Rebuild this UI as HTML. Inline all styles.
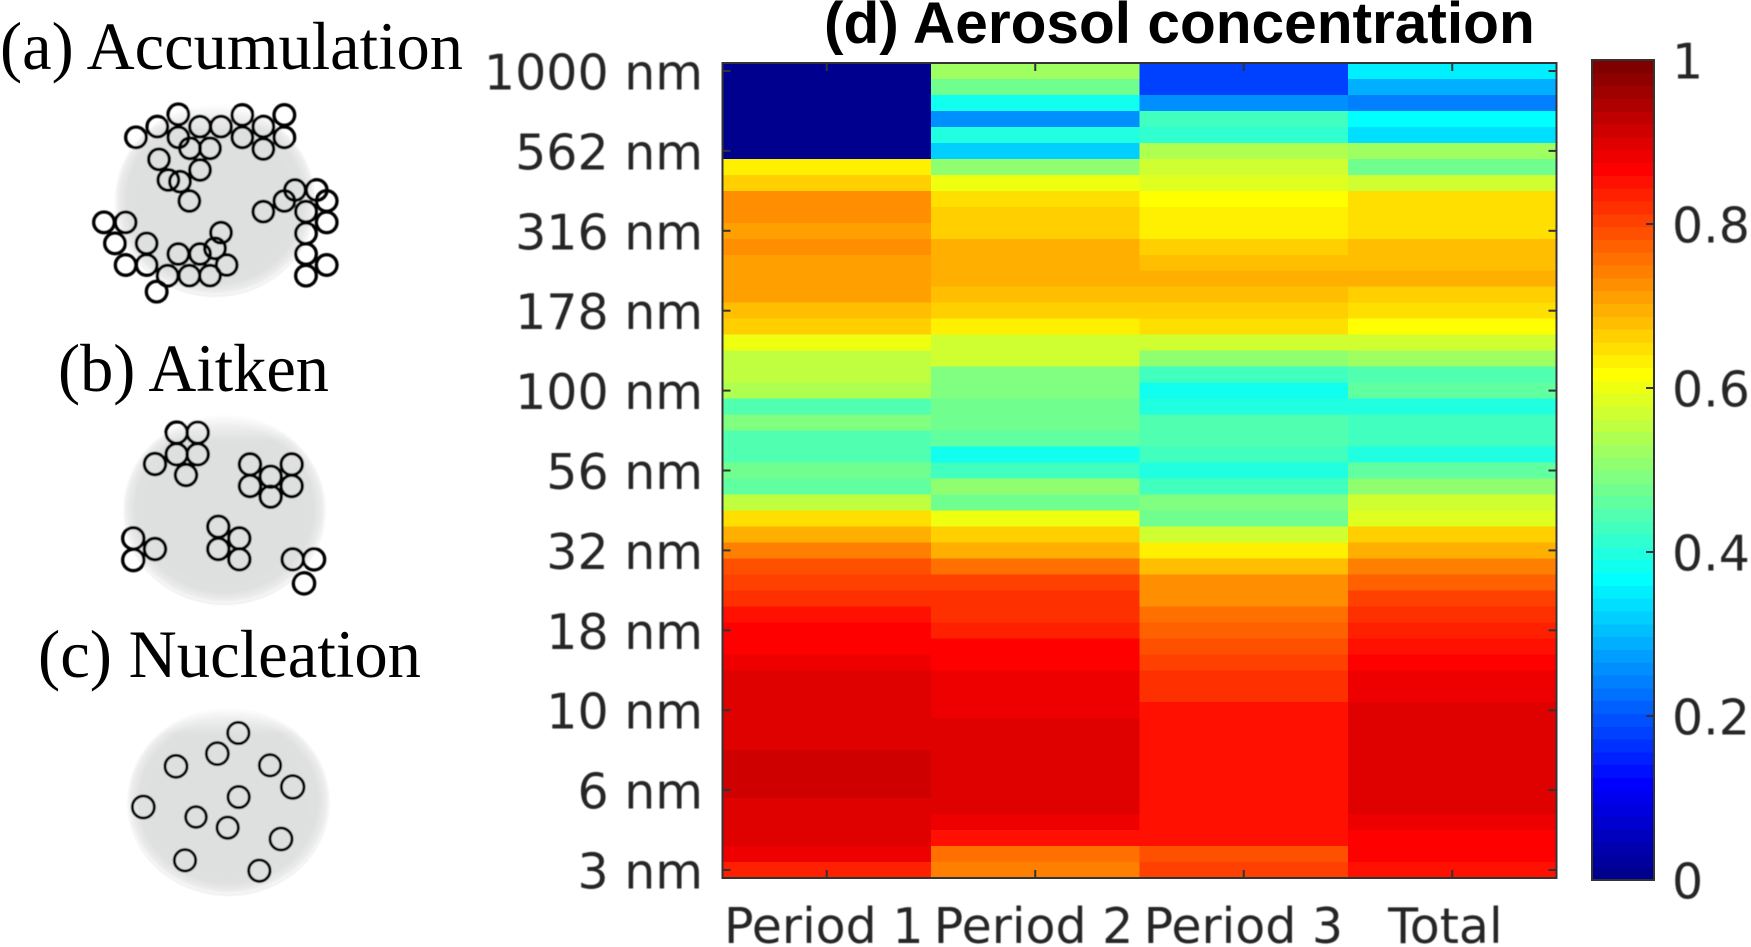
<!DOCTYPE html>
<html lang="en">
<head>
<meta charset="utf-8">
<title>Aerosol concentration heatmap</title>
<style>
html,body{margin:0;padding:0;background:#fff;width:1751px;height:947px;overflow:hidden}
svg{display:block}
.serif{font-family:"Liberation Serif",serif;fill:#000}
.tick{font-family:"DejaVu Sans",sans-serif;font-size:49px;fill:#262626}
.title{font-family:"Liberation Sans",sans-serif;font-weight:700;font-size:58.6px;fill:#000}
</style>
</head>
<body>
<svg id="figure" xmlns="http://www.w3.org/2000/svg" width="1751" height="947" viewBox="0 0 1751 947">
  <defs>
    <radialGradient id="disc-fill" cx="50%" cy="50%" r="50%">
      <stop offset="0%" stop-color="#dedfdf"/>
      <stop offset="88%" stop-color="#dfe0e0"/>
      <stop offset="96%" stop-color="#ebebeb"/>
      <stop offset="100%" stop-color="#f8f8f8"/>
    </radialGradient>
    <linearGradient id="disc-sheen" x1="0" y1="0" x2="0" y2="1">
      <stop offset="0%" stop-color="#fff" stop-opacity=".8"/>
      <stop offset="14%" stop-color="#fff" stop-opacity="0"/>
    </linearGradient>
    <filter id="soft" x="-5%" y="-5%" width="110%" height="110%"><feGaussianBlur stdDeviation="0.45"/></filter>
    <filter id="soft-text" x="-5%" y="-5%" width="110%" height="110%"><feGaussianBlur stdDeviation="0.45"/></filter>
  </defs>

  <text class="serif" x="0" y="69" font-size="68" textLength="463" lengthAdjust="spacingAndGlyphs">(a) Accumulation</text>
  <text class="serif" x="58" y="391" font-size="68" textLength="271" lengthAdjust="spacingAndGlyphs">(b) Aitken</text>
  <text class="serif" x="38" y="677" font-size="68" textLength="383" lengthAdjust="spacingAndGlyphs">(c) Nucleation</text>

  <g filter="url(#soft)">
    <ellipse cx="215" cy="202" rx="100" ry="95" fill="#d4d5d5" opacity=".35"/>
    <ellipse cx="215" cy="200" rx="100" ry="95" fill="url(#disc-fill)"/>
    <ellipse cx="215" cy="200" rx="100" ry="95" fill="url(#disc-sheen)"/>
    <g transform="scale(0.33333)" fill="none" stroke="#000" stroke-width="10">
      <circle cx="408" cy="412" r="31"/><circle cx="472" cy="380" r="31"/><circle cx="535" cy="343" r="31"/><circle cx="600" cy="380" r="31"/><circle cx="663" cy="380" r="31"/><circle cx="727" cy="345" r="31"/><circle cx="790" cy="380" r="31"/><circle cx="853" cy="345" r="31"/><circle cx="853" cy="412" r="31"/><circle cx="790" cy="447" r="31"/><circle cx="727" cy="412" r="31"/><circle cx="535" cy="412" r="31"/><circle cx="570" cy="445" r="31"/><circle cx="630" cy="445" r="31"/><circle cx="477" cy="478" r="31"/><circle cx="600" cy="510" r="31"/><circle cx="505" cy="540" r="31"/><circle cx="540" cy="545" r="31"/><circle cx="568" cy="603" r="31"/><circle cx="790" cy="635" r="31"/><circle cx="853" cy="603" r="31"/><circle cx="885" cy="570" r="31"/><circle cx="950" cy="570" r="31"/><circle cx="980" cy="603" r="31"/><circle cx="918" cy="635" r="31"/><circle cx="980" cy="667" r="31"/><circle cx="918" cy="700" r="31"/><circle cx="918" cy="762" r="31"/><circle cx="980" cy="795" r="31"/><circle cx="918" cy="827" r="31"/><circle cx="312" cy="667" r="31"/><circle cx="377" cy="667" r="31"/><circle cx="345" cy="730" r="31"/><circle cx="440" cy="730" r="31"/><circle cx="377" cy="795" r="31"/><circle cx="440" cy="795" r="31"/><circle cx="503" cy="827" r="31"/><circle cx="470" cy="875" r="31"/><circle cx="535" cy="762" r="31"/><circle cx="600" cy="762" r="31"/><circle cx="645" cy="745" r="31"/><circle cx="663" cy="698" r="31"/><circle cx="680" cy="795" r="31"/><circle cx="630" cy="827" r="31"/><circle cx="568" cy="827" r="31"/>
    </g>
  </g>

  <g filter="url(#soft)">
    <ellipse cx="224.5" cy="511" rx="101" ry="94" fill="#d4d5d5" opacity=".35"/>
    <ellipse cx="224.5" cy="509" rx="101" ry="94" fill="url(#disc-fill)"/>
    <ellipse cx="224.5" cy="509" rx="101" ry="94" fill="url(#disc-sheen)"/>
    <g transform="translate(0 320) scale(0.33333)" fill="none" stroke="#000" stroke-width="10">
      <circle cx="530" cy="338" r="32"/><circle cx="593" cy="338" r="32"/><circle cx="530" cy="403" r="32"/><circle cx="593" cy="403" r="32"/><circle cx="465" cy="432" r="32"/><circle cx="558" cy="465" r="32"/><circle cx="750" cy="433" r="32"/><circle cx="875" cy="433" r="32"/><circle cx="812" cy="470" r="32"/><circle cx="750" cy="498" r="32"/><circle cx="875" cy="498" r="32"/><circle cx="812" cy="530" r="32"/><circle cx="655" cy="620" r="32"/><circle cx="718" cy="655" r="32"/><circle cx="655" cy="687" r="32"/><circle cx="718" cy="718" r="32"/><circle cx="400" cy="655" r="32"/><circle cx="465" cy="687" r="32"/><circle cx="400" cy="720" r="32"/><circle cx="878" cy="718" r="32"/><circle cx="942" cy="718" r="32"/><circle cx="912" cy="790" r="32"/>
    </g>
  </g>

  <g filter="url(#soft)">
    <ellipse cx="228.5" cy="803" rx="101" ry="93" fill="#d4d5d5" opacity=".35"/>
    <ellipse cx="228.5" cy="801" rx="101" ry="93" fill="url(#disc-fill)"/>
    <ellipse cx="228.5" cy="801" rx="101" ry="93" fill="url(#disc-sheen)"/>
    <g transform="translate(0 627) scale(0.33333)" fill="none" stroke="#000" stroke-width="9">
      <circle cx="715" cy="318" r="32"/><circle cx="652" cy="380" r="33"/><circle cx="528" cy="418" r="33"/><circle cx="810" cy="415" r="32"/><circle cx="878" cy="480" r="34"/><circle cx="716" cy="510" r="32"/><circle cx="430" cy="540" r="33"/><circle cx="588" cy="570" r="31"/><circle cx="683" cy="602" r="32"/><circle cx="843" cy="636" r="33"/><circle cx="555" cy="700" r="32"/><circle cx="778" cy="731" r="32"/>
    </g>
  </g>

  <text class="title" x="824" y="43">(d) Aerosol concentration</text>
  <g id="heatmap" shape-rendering="crispEdges"></g>
  <g id="axes"></g>
  <g id="colorbar"></g>
</svg>

<script>
const categories = ["Period 1", "Period 2", "Period 3", "Total\u00a0"];
const sizeLabels = ["1000 nm", "562 nm", "316 nm", "178 nm", "100 nm", "56 nm", "32 nm", "18 nm", "10 nm", "6 nm", "3 nm"];
const colorbarTicks = [0, 0.2, 0.4, 0.6, 0.8, 1];
const colorbarLabels = ["0", "0.2", "0.4", "0.6", "0.8", "1"];

const period1 = [0,0,0,0,0,0,.64,.67,.73,.73,.72,.73,.72,.72,.72,.69,.67,
  .61,.56,.56,.55,.45,.50,.45,.45,.48,.47,.56,.66,.70,.75,.80,.81,.83,.86,
  .875,.875,.89,.905,.905,.905,.905,.905,.92,.92,.92,.905,.905,.905,.89,.84];
const period2 = [.535,.49,.39,.27,.40,.33,.52,.61,.65,.67,.67,.70,.71,.71,.69,.675,.64,
  .58,.58,.50,.50,.49,.49,.47,.39,.43,.52,.49,.61,.67,.71,.76,.81,.83,.83,
  .845,.875,.875,.89,.89,.89,.905,.905,.905,.905,.905,.905,.89,.86,.76,.75];
const period3 = [.19,.18,.26,.44,.42,.54,.58,.595,.625,.64,.64,.67,.68,.70,.685,.67,.66,
  .58,.52,.44,.385,.40,.45,.45,.43,.40,.43,.50,.485,.58,.64,.68,.735,.735,.76,
  .78,.80,.815,.83,.83,.86,.86,.86,.86,.86,.86,.86,.86,.86,.795,.81];
const total = [.36,.30,.25,.375,.35,.535,.49,.58,.655,.655,.655,.685,.685,.70,.675,.66,.625,
  .58,.535,.45,.47,.40,.43,.43,.40,.47,.52,.58,.60,.67,.71,.75,.78,.81,.83,
  .845,.86,.875,.89,.89,.905,.905,.905,.905,.905,.905,.905,.89,.875,.875,.86];

const seriesList = [period1, period2, period3, total];
const SVG_NS = "http://www.w3.org/2000/svg";
const plot = {left: 722.5, right: 1556.5, top: 63, bottom: 878};
const bar = {left: 1592, right: 1654, top: 60, bottom: 880};
const TICK_LABEL_STEP = 5;

function xEdge(col) { return plot.left + (plot.right - plot.left) * col / categories.length; }
function xCenter(col) { return xEdge(col + 0.5); }
function rowCount() { return period1.length; }
function yEdge(row) { return plot.top + (plot.bottom - plot.top) * row / rowCount(); }
function yCenter(row) { return yEdge(row + 0.5); }
function barY(value) { return bar.bottom - (bar.bottom - bar.top) * value; }

function clip01(n) { return Math.max(0, Math.min(1, n)); }
function jet(value) {
  const level = Math.max(1, Math.min(64, Math.round(value * 64)));
  const x = level / 64;
  const r = clip01(1.5 - Math.abs(4 * x - 3));
  const g = clip01(1.5 - Math.abs(4 * x - 2));
  const b = clip01(1.5 - Math.abs(4 * x - 1));
  return "rgb(" + Math.round(r * 255) + "," + Math.round(g * 255) + "," + Math.round(b * 255) + ")";
}
function node(tag, attrs, parent) {
  const el = document.createElementNS(SVG_NS, tag);
  for (const k in attrs) el.setAttribute(k, attrs[k]);
  parent.appendChild(el);
  return el;
}

const heatmapGroup = document.getElementById("heatmap");
const axesGroup = document.getElementById("axes");
const colorbarGroup = document.getElementById("colorbar");

seriesList.forEach(function (series, col) {
  series.forEach(function (value, row) {
    const cell = node("rect", {
      x: xEdge(col), y: yEdge(row),
      width: xEdge(col + 1) - xEdge(col) + 0.5,
      height: yEdge(row + 1) - yEdge(row) + 0.5,
      fill: jet(value)
    }, heatmapGroup);
    
    
  });
});

const frame = node("rect", {
  x: plot.left, y: plot.top,
  width: plot.right - plot.left, height: plot.bottom - plot.top,
  fill: "none", stroke: "#333", "stroke-width": 2
}, axesGroup);



categories.forEach(function (label, col) {
  const x = xCenter(col);
  const topTick = node("line", {x1: x, x2: x, y1: plot.top, y2: plot.top + 8, stroke: "#333", "stroke-width": 2}, axesGroup);
  
  
  const bottomTick = node("line", {x1: x, x2: x, y1: plot.bottom, y2: plot.bottom - 8, stroke: "#333", "stroke-width": 2}, axesGroup);
  
  
  const text = node("text", {x: x - 3 + 1.3 * col, y: 943, "text-anchor": "middle", "class": "tick", filter: "url(#soft-text)"}, axesGroup);
  
  
  text.textContent = label;
});

sizeLabels.forEach(function (label, i) {
  const y = yCenter(i * TICK_LABEL_STEP);
  const leftTick = node("line", {x1: plot.left, x2: plot.left + 8, y1: y, y2: y, stroke: "#333", "stroke-width": 2}, axesGroup);
  
  
  const rightTick = node("line", {x1: plot.right, x2: plot.right - 8, y1: y, y2: y, stroke: "#333", "stroke-width": 2}, axesGroup);
  
  
  const text = node("text", {x: 703, y: y + 18.5, "text-anchor": "end", "class": "tick", filter: "url(#soft-text)"}, axesGroup);
  
  
  text.textContent = label;
});

for (let i = 0; i < 64; i++) {
  const lower = i / 64;
  const upper = (i + 1) / 64;
  const band = node("rect", {
    x: bar.left, y: barY(upper),
    width: bar.right - bar.left,
    height: barY(lower) - barY(upper) + 0.5,
    fill: jet(upper), "shape-rendering": "crispEdges"
  }, colorbarGroup);
  
  
}
const barFrame = node("rect", {
  x: bar.left, y: bar.top,
  width: bar.right - bar.left, height: bar.bottom - bar.top,
  fill: "none", stroke: "#333", "stroke-width": 2
}, colorbarGroup);



colorbarTicks.forEach(function (value, i) {
  const y = barY(value);
  if (value > 0 && value < 1) {
    const tick = node("line", {x1: bar.right, x2: bar.right - 8, y1: y, y2: y, stroke: "#333", "stroke-width": 2}, colorbarGroup);
    
    
  }
  const text = node("text", {x: 1672, y: y + 18.5, "class": "tick", filter: "url(#soft-text)"}, colorbarGroup);
  
  
  text.textContent = colorbarLabels[i];
});
</script>
</body>
</html>
